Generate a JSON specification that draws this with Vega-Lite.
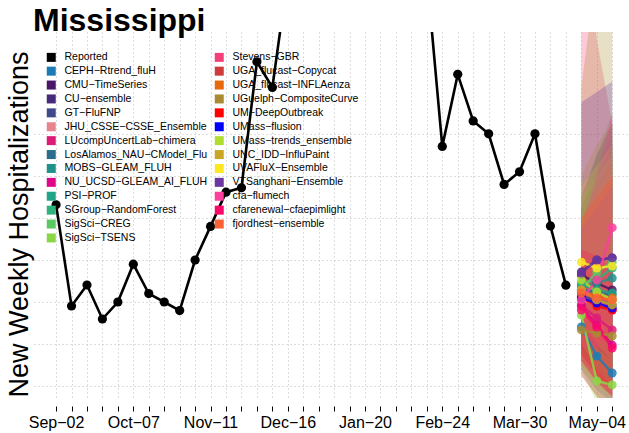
{
  "$schema": "https://vega.github.io/schema/vega-lite/v6.json",
  "autosize": {"type": "none"},
  "width": 595,
  "height": 366,
  "padding": {"left": 34, "top": 32, "right": 0, "bottom": 35},
  "background": "white",
  "config": {"font": "Liberation Sans", "view": {"stroke": null}},
  "title": {"text": "Mississippi", "anchor": "start", "frame": "group", "offset": -31, "baseline": "alphabetic", "fontSize": 32, "fontWeight": "bold", "color": "black", "dx": -1},
  "datasets": {
    "obs": [
      {"model": "Reported", "date": "2023-09-02", "value": 86.3},
      {"model": "Reported", "date": "2023-09-09", "value": 38.1},
      {"model": "Reported", "date": "2023-09-16", "value": 48.1},
      {"model": "Reported", "date": "2023-09-23", "value": 31.9},
      {"model": "Reported", "date": "2023-09-30", "value": 40.0},
      {"model": "Reported", "date": "2023-10-07", "value": 58.0},
      {"model": "Reported", "date": "2023-10-14", "value": 44.0},
      {"model": "Reported", "date": "2023-10-21", "value": 40.0},
      {"model": "Reported", "date": "2023-10-28", "value": 35.9},
      {"model": "Reported", "date": "2023-11-04", "value": 60.0},
      {"model": "Reported", "date": "2023-11-11", "value": 76.0},
      {"model": "Reported", "date": "2023-11-18", "value": 92.3},
      {"model": "Reported", "date": "2023-11-25", "value": 94.4},
      {"model": "Reported", "date": "2023-12-02", "value": 154.4},
      {"model": "Reported", "date": "2023-12-09", "value": 142.2},
      {"model": "Reported", "date": "2023-12-16", "value": 195.2},
      {"model": "Reported", "date": "2023-12-23", "value": 260},
      {"model": "Reported", "date": "2023-12-30", "value": 330},
      {"model": "Reported", "date": "2024-01-06", "value": 360},
      {"model": "Reported", "date": "2024-01-13", "value": 320},
      {"model": "Reported", "date": "2024-01-20", "value": 280},
      {"model": "Reported", "date": "2024-01-27", "value": 250},
      {"model": "Reported", "date": "2024-02-03", "value": 230},
      {"model": "Reported", "date": "2024-02-10", "value": 215},
      {"model": "Reported", "date": "2024-02-17", "value": 195.7},
      {"model": "Reported", "date": "2024-02-24", "value": 114.1},
      {"model": "Reported", "date": "2024-03-02", "value": 148.4},
      {"model": "Reported", "date": "2024-03-09", "value": 126.2},
      {"model": "Reported", "date": "2024-03-16", "value": 120.1},
      {"model": "Reported", "date": "2024-03-23", "value": 96.0},
      {"model": "Reported", "date": "2024-03-30", "value": 102.0},
      {"model": "Reported", "date": "2024-04-06", "value": 120.1},
      {"model": "Reported", "date": "2024-04-13", "value": 76.2},
      {"model": "Reported", "date": "2024-04-20", "value": 48.0}
    ],
    "fc": [
      {"model": "CEPH−Rtrend_fluH", "date": "2024-04-27", "value": 28.1, "lower": 8, "upper": 60},
      {"model": "CEPH−Rtrend_fluH", "date": "2024-05-04", "value": 14.3, "lower": -2, "upper": 48},
      {"model": "CEPH−Rtrend_fluH", "date": "2024-05-11", "value": 6.2, "lower": -8, "upper": 40},
      {"model": "CMU−TimeSeries", "date": "2024-04-27", "value": 52.9, "lower": 20, "upper": 85},
      {"model": "CMU−TimeSeries", "date": "2024-05-04", "value": 49.0, "lower": 10, "upper": 100},
      {"model": "CMU−TimeSeries", "date": "2024-05-11", "value": 45.7, "lower": 2, "upper": 115},
      {"model": "CU−ensemble", "date": "2024-04-27", "value": 54.3, "lower": 25, "upper": 90},
      {"model": "CU−ensemble", "date": "2024-05-04", "value": 60.0, "lower": 18, "upper": 110},
      {"model": "CU−ensemble", "date": "2024-05-11", "value": 61.0, "lower": 10, "upper": 125},
      {"model": "GT−FluFNP", "date": "2024-04-27", "value": 42.9, "lower": 15, "upper": 80},
      {"model": "GT−FluFNP", "date": "2024-05-04", "value": 41.0, "lower": 5, "upper": 95},
      {"model": "GT−FluFNP", "date": "2024-05-11", "value": 38.6, "lower": -2, "upper": 110},
      {"model": "JHU_CSSE−CSSE_Ensemble", "date": "2024-04-27", "value": 41.0, "lower": 10, "upper": 85},
      {"model": "JHU_CSSE−CSSE_Ensemble", "date": "2024-05-04", "value": 38.6, "lower": 2, "upper": 100},
      {"model": "JHU_CSSE−CSSE_Ensemble", "date": "2024-05-11", "value": 36.2, "lower": -5, "upper": 110},
      {"model": "LUcompUncertLab−chimera", "date": "2024-04-27", "value": 38.6, "lower": 12, "upper": 70},
      {"model": "LUcompUncertLab−chimera", "date": "2024-05-04", "value": 32.4, "lower": 2, "upper": 72},
      {"model": "LUcompUncertLab−chimera", "date": "2024-05-11", "value": 26.7, "lower": -5, "upper": 75},
      {"model": "LosAlamos_NAU−CModel_Flu", "date": "2024-04-27", "value": 45.7, "lower": 18, "upper": 85},
      {"model": "LosAlamos_NAU−CModel_Flu", "date": "2024-05-04", "value": 44.8, "lower": 8, "upper": 100},
      {"model": "LosAlamos_NAU−CModel_Flu", "date": "2024-05-11", "value": 43.3, "lower": 0, "upper": 115},
      {"model": "MOBS−GLEAM_FLUH", "date": "2024-04-27", "value": 47.1, "lower": 20, "upper": 85},
      {"model": "MOBS−GLEAM_FLUH", "date": "2024-05-04", "value": 49.0, "lower": 12, "upper": 105},
      {"model": "MOBS−GLEAM_FLUH", "date": "2024-05-11", "value": 51.4, "lower": 5, "upper": 120},
      {"model": "NU_UCSD−GLEAM_AI_FLUH", "date": "2024-04-27", "value": 38.1, "lower": 12, "upper": 68},
      {"model": "NU_UCSD−GLEAM_AI_FLUH", "date": "2024-05-04", "value": 29.0, "lower": 2, "upper": 65},
      {"model": "NU_UCSD−GLEAM_AI_FLUH", "date": "2024-05-11", "value": 19.5, "lower": -5, "upper": 60},
      {"model": "PSI−PROF", "date": "2024-04-27", "value": 48.1, "lower": 22, "upper": 85},
      {"model": "PSI−PROF", "date": "2024-05-04", "value": 45.7, "lower": 10, "upper": 100},
      {"model": "PSI−PROF", "date": "2024-05-11", "value": 44.3, "lower": 2, "upper": 115},
      {"model": "SGroup−RandomForest", "date": "2024-04-27", "value": 49.0, "lower": 20, "upper": 90},
      {"model": "SGroup−RandomForest", "date": "2024-05-04", "value": 50.5, "lower": 12, "upper": 110},
      {"model": "SGroup−RandomForest", "date": "2024-05-11", "value": 56.2, "lower": 8, "upper": 125},
      {"model": "SigSci−CREG", "date": "2024-04-27", "value": 45.7, "lower": 15, "upper": 85},
      {"model": "SigSci−CREG", "date": "2024-05-04", "value": 54.3, "lower": 10, "upper": 110},
      {"model": "SigSci−CREG", "date": "2024-05-11", "value": 59.0, "lower": 5, "upper": 130},
      {"model": "SigSci−TSENS", "date": "2024-04-27", "value": 33.8, "lower": 8, "upper": 65},
      {"model": "SigSci−TSENS", "date": "2024-05-04", "value": 2.4, "lower": -8, "upper": 45},
      {"model": "SigSci−TSENS", "date": "2024-05-11", "value": 0.5, "lower": -10, "upper": 35},
      {"model": "Stevens−GBR", "date": "2024-04-27", "value": 45.7, "lower": 5, "upper": 240},
      {"model": "Stevens−GBR", "date": "2024-05-04", "value": 41.0, "lower": -5, "upper": 165},
      {"model": "Stevens−GBR", "date": "2024-05-11", "value": 36.2, "lower": -10, "upper": 125},
      {"model": "UGA_flucast−Copycat", "date": "2024-04-27", "value": 44.3, "lower": 15, "upper": 80},
      {"model": "UGA_flucast−Copycat", "date": "2024-05-04", "value": 42.9, "lower": 5, "upper": 95},
      {"model": "UGA_flucast−Copycat", "date": "2024-05-11", "value": 41.0, "lower": -2, "upper": 108},
      {"model": "UGA_flucast−INFLAenza", "date": "2024-04-27", "value": 44.8, "lower": 18, "upper": 80},
      {"model": "UGA_flucast−INFLAenza", "date": "2024-05-04", "value": 42.9, "lower": 8, "upper": 92},
      {"model": "UGA_flucast−INFLAenza", "date": "2024-05-11", "value": 41.9, "lower": 0, "upper": 105},
      {"model": "UGuelph−CompositeCurve", "date": "2024-04-27", "value": 26.7, "lower": 5, "upper": 142},
      {"model": "UGuelph−CompositeCurve", "date": "2024-05-04", "value": 25.2, "lower": -5, "upper": 200},
      {"model": "UGuelph−CompositeCurve", "date": "2024-05-11", "value": 23.8, "lower": -10, "upper": 260},
      {"model": "UM−DeepOutbreak", "date": "2024-04-27", "value": 41.9, "lower": 15, "upper": 80},
      {"model": "UM−DeepOutbreak", "date": "2024-05-04", "value": 38.1, "lower": 5, "upper": 90},
      {"model": "UM−DeepOutbreak", "date": "2024-05-11", "value": 36.2, "lower": -2, "upper": 100},
      {"model": "UMass−flusion", "date": "2024-04-27", "value": 41.9, "lower": 18, "upper": 75},
      {"model": "UMass−flusion", "date": "2024-05-04", "value": 39.5, "lower": 8, "upper": 85},
      {"model": "UMass−flusion", "date": "2024-05-11", "value": 37.1, "lower": 0, "upper": 95},
      {"model": "UMass−trends_ensemble", "date": "2024-04-27", "value": 50.5, "lower": 20, "upper": 90},
      {"model": "UMass−trends_ensemble", "date": "2024-05-04", "value": 44.8, "lower": 8, "upper": 100},
      {"model": "UMass−trends_ensemble", "date": "2024-05-11", "value": 41.0, "lower": 0, "upper": 110},
      {"model": "UNC_IDD−InfluPaint", "date": "2024-04-27", "value": 45.7, "lower": 10, "upper": 100},
      {"model": "UNC_IDD−InfluPaint", "date": "2024-05-04", "value": 41.0, "lower": 0, "upper": 115},
      {"model": "UNC_IDD−InfluPaint", "date": "2024-05-11", "value": 38.6, "lower": -5, "upper": 125},
      {"model": "UVAFluX−Ensemble", "date": "2024-04-27", "value": 59.0, "lower": 30, "upper": 95},
      {"model": "UVAFluX−Ensemble", "date": "2024-05-04", "value": 56.2, "lower": 20, "upper": 105},
      {"model": "UVAFluX−Ensemble", "date": "2024-05-11", "value": 57.1, "lower": 12, "upper": 115},
      {"model": "VTSanghani−Ensemble", "date": "2024-04-27", "value": 53.8, "lower": 25, "upper": 135},
      {"model": "VTSanghani−Ensemble", "date": "2024-05-04", "value": 60.0, "lower": 18, "upper": 140},
      {"model": "VTSanghani−Ensemble", "date": "2024-05-11", "value": 61.0, "lower": 12, "upper": 145},
      {"model": "cfa−flumech", "date": "2024-04-27", "value": 41.0, "lower": 18, "upper": 75},
      {"model": "cfa−flumech", "date": "2024-05-04", "value": 50.5, "lower": 18, "upper": 100},
      {"model": "cfa−flumech", "date": "2024-05-11", "value": 75.4, "lower": 25, "upper": 130},
      {"model": "cfarenewal−cfaepimlight", "date": "2024-04-27", "value": 36.2, "lower": 12, "upper": 65},
      {"model": "cfarenewal−cfaepimlight", "date": "2024-05-04", "value": 28.1, "lower": 2, "upper": 62},
      {"model": "cfarenewal−cfaepimlight", "date": "2024-05-11", "value": 18.1, "lower": -5, "upper": 55},
      {"model": "fjordhest−ensemble", "date": "2024-04-27", "value": 44.3, "lower": 18, "upper": 80},
      {"model": "fjordhest−ensemble", "date": "2024-05-04", "value": 41.9, "lower": 8, "upper": 90},
      {"model": "fjordhest−ensemble", "date": "2024-05-11", "value": 41.0, "lower": 0, "upper": 100}
    ]
  },
  "encoding": {
    "x": {
      "field": "date",
      "type": "temporal",
      "scale": {"type": "utc", "domain": [1692748800000, 1716042240000], "nice": false},
      "axis": {
        "title": null,
        "offset": 8,
        "domain": false,
        "values": [1693612800000, 1694217600000, 1694822400000, 1695427200000, 1696032000000, 1696636800000, 1697241600000, 1697846400000, 1698451200000, 1699056000000, 1699660800000, 1700265600000, 1700870400000, 1701475200000, 1702080000000, 1702684800000, 1703289600000, 1703894400000, 1704499200000, 1705104000000, 1705708800000, 1706313600000, 1706918400000, 1707523200000, 1708128000000, 1708732800000, 1709337600000, 1709942400000, 1710547200000, 1711152000000, 1711756800000, 1712361600000, 1712966400000, 1713571200000, 1714176000000, 1714780800000, 1715385600000],
        "labelExpr": "(round((datum.value - 1693612800000) / 604800000) % 5 == 0) ? replace(utcFormat(datum.value, '%b-%d'), '-', '−') : ''",
        "labelFontSize": 16,
        "labelColor": "black",
        "labelPadding": 3,
        "labelOverlap": false,
        "labelFlush": false,
        "ticks": true,
        "tickColor": "black",
        "tickSize": 5,
        "tickWidth": 1,
        "grid": true,
        "gridColor": "#bdbdbd",
        "gridDash": [1, 3],
        "gridWidth": 1
      }
    }
  },
  "layer": [
    {
      "data": {"name": "fc"},
      "mark": {"type": "area", "clip": true, "fillOpacity": 0.28},
      "encoding": {
        "y": {
          "field": "lower",
          "type": "quantitative",
          "scale": {"domain": [-5.714, 168.571], "nice": false, "zero": false},
          "axis": {
            "title": "New Weekly Hospitalizations",
            "values": [0, 20, 40, 60, 80, 100, 120],
            "labels": false,
            "ticks": false,
            "domain": false,
            "grid": true,
            "gridColor": "#bdbdbd",
            "gridDash": [1, 3],
            "gridWidth": 1,
            "titleFontSize": 27,
            "titleFontWeight": "normal",
            "titleColor": "black",
            "titleAngle": -90,
            "titleBaseline": "alphabetic",
            "titleAlign": "center",
            "titleX": -7,
            "titleY": 192
          }
        },
        "y2": {"field": "upper"},
        "fill": {
          "field": "model",
          "type": "nominal",
          "legend": null,
          "scale": {
            "domain": ["CEPH−Rtrend_fluH", "CMU−TimeSeries", "CU−ensemble", "GT−FluFNP", "JHU_CSSE−CSSE_Ensemble", "LUcompUncertLab−chimera", "LosAlamos_NAU−CModel_Flu", "MOBS−GLEAM_FLUH", "NU_UCSD−GLEAM_AI_FLUH", "PSI−PROF", "SGroup−RandomForest", "SigSci−CREG", "SigSci−TSENS", "Stevens−GBR", "UGA_flucast−Copycat", "UGA_flucast−INFLAenza", "UGuelph−CompositeCurve", "UM−DeepOutbreak", "UMass−flusion", "UMass−trends_ensemble", "UNC_IDD−InfluPaint", "UVAFluX−Ensemble", "VTSanghani−Ensemble", "cfa−flumech", "cfarenewal−cfaepimlight", "fjordhest−ensemble"],
            "range": ["#1B7CB5", "#481567", "#472A7A", "#3E4A89", "#E7858E", "#DD1C77", "#2C6C8E", "#21918C", "#E0068A", "#20A386", "#2DB37B", "#5BC862", "#8BD646", "#F53F78", "#CF3A3A", "#E8680D", "#A88B33", "#FF0000", "#0000FF", "#B0DD2F", "#C8A826", "#FDE725", "#6C36A3", "#FC3E9C", "#FA0867", "#FC6135"]
          }
        }
      }
    },
    {
      "data": {"name": "obs"},
      "mark": {"type": "line", "clip": true, "color": "black", "strokeWidth": 2.6},
      "encoding": {
        "y": {"field": "value", "type": "quantitative", "scale": {"domain": [-5.714, 168.571], "nice": false, "zero": false}}
      }
    },
    {
      "data": {"name": "obs"},
      "mark": {"type": "point", "clip": true, "filled": true, "color": "black", "size": 85, "opacity": 1},
      "encoding": {
        "y": {"field": "value", "type": "quantitative", "scale": {"domain": [-5.714, 168.571], "nice": false, "zero": false}}
      }
    },
    {
      "data": {"name": "fc"},
      "mark": {"type": "line", "clip": true, "strokeWidth": 2.4, "opacity": 0.85},
      "encoding": {
        "y": {"field": "value", "type": "quantitative", "scale": {"domain": [-5.714, 168.571], "nice": false, "zero": false}},
        "stroke": {
          "field": "model",
          "type": "nominal",
          "legend": null,
          "scale": {
            "domain": ["CEPH−Rtrend_fluH", "CMU−TimeSeries", "CU−ensemble", "GT−FluFNP", "JHU_CSSE−CSSE_Ensemble", "LUcompUncertLab−chimera", "LosAlamos_NAU−CModel_Flu", "MOBS−GLEAM_FLUH", "NU_UCSD−GLEAM_AI_FLUH", "PSI−PROF", "SGroup−RandomForest", "SigSci−CREG", "SigSci−TSENS", "Stevens−GBR", "UGA_flucast−Copycat", "UGA_flucast−INFLAenza", "UGuelph−CompositeCurve", "UM−DeepOutbreak", "UMass−flusion", "UMass−trends_ensemble", "UNC_IDD−InfluPaint", "UVAFluX−Ensemble", "VTSanghani−Ensemble", "cfa−flumech", "cfarenewal−cfaepimlight", "fjordhest−ensemble"],
            "range": ["#1B7CB5", "#481567", "#472A7A", "#3E4A89", "#E7858E", "#DD1C77", "#2C6C8E", "#21918C", "#E0068A", "#20A386", "#2DB37B", "#5BC862", "#8BD646", "#F53F78", "#CF3A3A", "#E8680D", "#A88B33", "#FF0000", "#0000FF", "#B0DD2F", "#C8A826", "#FDE725", "#6C36A3", "#FC3E9C", "#FA0867", "#FC6135"]
          }
        }
      }
    },
    {
      "data": {"name": "fc"},
      "mark": {"type": "point", "clip": true, "filled": true, "size": 80, "opacity": 0.85},
      "encoding": {
        "y": {"field": "value", "type": "quantitative", "scale": {"domain": [-5.714, 168.571], "nice": false, "zero": false}},
        "color": {
          "field": "model",
          "type": "nominal",
          "scale": {
            "domain": ["Reported", "CEPH−Rtrend_fluH", "CMU−TimeSeries", "CU−ensemble", "GT−FluFNP", "JHU_CSSE−CSSE_Ensemble", "LUcompUncertLab−chimera", "LosAlamos_NAU−CModel_Flu", "MOBS−GLEAM_FLUH", "NU_UCSD−GLEAM_AI_FLUH", "PSI−PROF", "SGroup−RandomForest", "SigSci−CREG", "SigSci−TSENS", "Stevens−GBR", "UGA_flucast−Copycat", "UGA_flucast−INFLAenza", "UGuelph−CompositeCurve", "UM−DeepOutbreak", "UMass−flusion", "UMass−trends_ensemble", "UNC_IDD−InfluPaint", "UVAFluX−Ensemble", "VTSanghani−Ensemble", "cfa−flumech", "cfarenewal−cfaepimlight", "fjordhest−ensemble"],
            "range": ["#000000", "#1B7CB5", "#481567", "#472A7A", "#3E4A89", "#E7858E", "#DD1C77", "#2C6C8E", "#21918C", "#E0068A", "#20A386", "#2DB37B", "#5BC862", "#8BD646", "#F53F78", "#CF3A3A", "#E8680D", "#A88B33", "#FF0000", "#0000FF", "#B0DD2F", "#C8A826", "#FDE725", "#6C36A3", "#FC3E9C", "#FA0867", "#FC6135"]
          },
          "legend": {
            "orient": "none",
            "legendX": 12,
            "legendY": 20,
            "columns": 2,
            "title": null,
            "symbolType": "square",
            "symbolSize": 81,
            "symbolStrokeWidth": 0,
            "symbolOpacity": 1,
            "labelFontSize": 10.5,
            "labelColor": "black",
            "labelOffset": 8,
            "labelLimit": 300,
            "rowPadding": 2.9,
            "columnPadding": 6
          }
        }
      }
    },
    {
      "mark": {"type": "rule", "clip": false, "color": "black", "strokeWidth": 1},
      "encoding": {
        "x": {"datum": 1693612800000, "type": "temporal"},
        "x2": {"datum": 1715385600000},
        "y": {"datum": -9.52, "type": "quantitative", "scale": {"domain": [-5.714, 168.571], "nice": false, "zero": false}}
      }
    },
    {
      "mark": {"type": "text", "clip": false, "align": "right", "baseline": "alphabetic", "fontSize": 13, "color": "black", "dx": -1},
      "encoding": {
        "x": {"datum": 1716042240000, "type": "temporal"},
        "y": {"datum": -2.38, "type": "quantitative", "scale": {"domain": [-5.714, 168.571], "nice": false, "zero": false}},
        "text": {"value": "Bands: 95% Prediction Intervals"}
      }
    }
  ]
}
